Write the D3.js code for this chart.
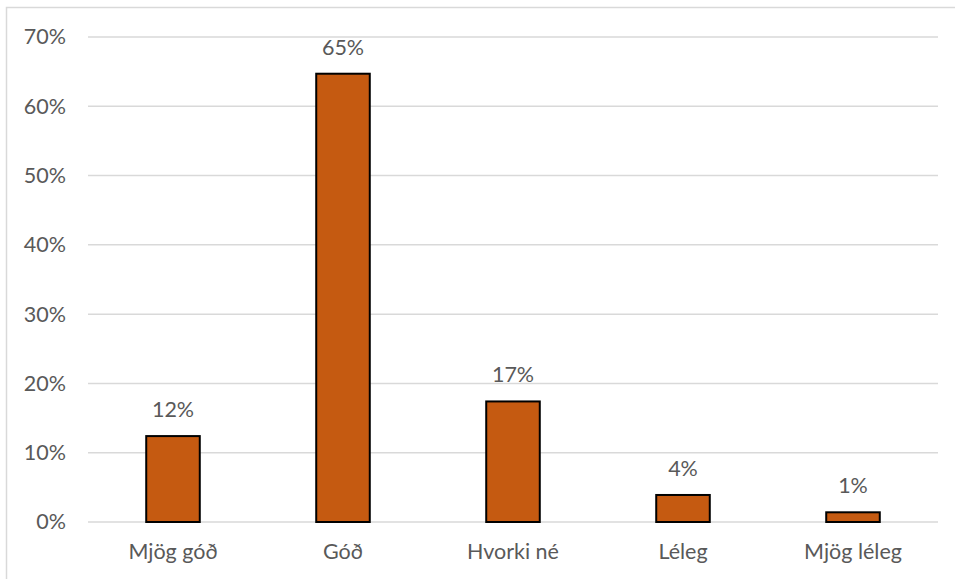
<!DOCTYPE html>
<html><head><meta charset="utf-8">
<script src="https://cdn.jsdelivr.net/npm/d3@7"></script>
<style>body{margin:0;background:#fff}svg{display:block}text{font-family:Lato,"Open Sans",sans-serif;fill:#595959}</style>
</head><body><svg id="c" width="955" height="579"></svg>
<script>
const categories = ["Mjög góð","Góð","Hvorki né","Léleg","Mjög léleg"];
const values = [12.4, 64.7, 17.4, 3.9, 1.4];
const yTicks = [0,10,20,30,40,50,60,70];

const svg = d3.select("#c");
const m = {l:88, r:955-938, t:37, b:579-522};
const W = 955, H = 579;
const FS = 21.5;
svg.append("path").attr("d","M6.5,579 V7.5 H955").attr("fill","none").attr("stroke","#d9d9d9").attr("stroke-width",1.5);

const x = d3.scaleBand().domain(categories).range([m.l, W-m.r]).paddingInner(0.685).paddingOuter(0.3425);
const y = d3.scaleLinear().domain([0,70]).range([H-m.b, m.t]);

svg.append("g").selectAll("line").data(yTicks).join("line")
 .attr("x1",m.l).attr("x2",W-m.r).attr("y1",d=>y(d)).attr("y2",d=>y(d))
 .attr("stroke","#d9d9d9").attr("stroke-width",1.5);

const yAxis = d3.axisLeft(y).tickValues(yTicks).tickFormat(d=>d+"%").tickSize(0).tickPadding(22);
const ya = svg.append("g").attr("transform",`translate(${m.l},0)`).call(yAxis);
ya.select(".domain").remove();
ya.selectAll("text").attr("font-size",FS).style("fill","#595959").attr("font-family","Lato,sans-serif");

const xAxis = d3.axisBottom(x).tickSize(0).tickPadding(22);
const xa = svg.append("g").attr("transform",`translate(0,${H-m.b})`).call(xAxis);
xa.select(".domain").remove();
xa.selectAll("text").attr("font-size",FS).style("fill","#595959").attr("font-family","Lato,sans-serif");

const data = categories.map((c,i)=>({c, v:values[i]}));
svg.selectAll("rect.bar").data(data).join("rect")
 .attr("x",d=>x(d.c)).attr("width",x.bandwidth())
 .attr("y",d=>y(d.v)).attr("height",d=>y(0)-y(d.v))
 .attr("fill","#C55A11").attr("stroke","#000").attr("stroke-width",2);

const fmt = d3.format(".0f");
svg.selectAll("text.lbl").data(data).join("text")
 .attr("x",d=>x(d.c)+x.bandwidth()/2).attr("y",d=>y(d.v)-19)
 .attr("text-anchor","middle").attr("font-size",FS).text(d=>fmt(d.v)+"%");
</script></body></html>
